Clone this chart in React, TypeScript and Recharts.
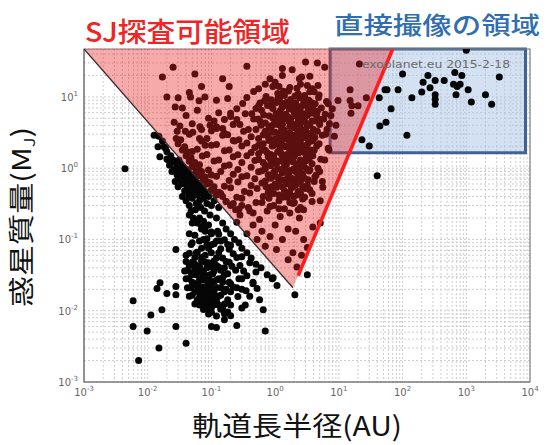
import React from 'react';
import { ScatterChart, Scatter, XAxis, YAxis, CartesianGrid, ReferenceArea } from 'recharts';

type Pt = [number, number]; // [semi-major axis AU, mass MJ]

// sparse giants in the upper part of the SJ triangle
const upperSparse: Pt[] = [
  [0.025, 26], [0.017, 19], [0.055, 21], [0.15, 18], [0.07, 14], [0.19, 14], [0.02, 10], [0.03, 9.7],
  [0.045, 11.5], [0.047, 10], [0.064, 8.8], [0.079, 10], [0.12, 9], [0.18, 9.5], [0.027, 7.2], [0.035, 7],
  [0.2, 5.9], [0.25, 4.8], [0.026, 4.4], [0.032, 3.9], [0.029, 3.3], [0.039, 3.3], [0.051, 3.2], [0.066, 3.8],
  [0.095, 4], [0.12, 3.8], [0.16, 3.1], [0.23, 2.4], [0.36, 27], [3, 31], [4.6, 30], [6, 26], [1.85, 24],
  [1.3, 20], [0.83, 18], [1.15, 14], [2.6, 19], [2.4, 18], [4.7, 14.5], [3.5, 19.5], [0.7, 15], [1, 16],
  [1.7, 13.5], [2.5, 15], [0.55, 13], [3.8, 13], [1.3, 25], [0.04, 5.5], [0.05, 4.2], [0.06, 6.5], [0.07, 3.5],
  [0.09, 5], [0.045, 3], [0.065, 2.6], [0.08, 2.1], [0.13, 6], [0.11, 4.6], [0.15, 3.6],
  [0.03, 2.2], [0.035, 1.8], [0.04, 1.5], [0.045, 1.25], [0.05, 1.05], [0.058, 0.9], [0.065, 0.78],
  [0.075, 0.68], [0.085, 0.6], [0.1, 0.5], [0.12, 0.42], [0.028, 2.6], [0.033, 2.5], [0.038, 2], [0.042, 1.7],
  [0.048, 1.4], [0.055, 1.2], [0.062, 1], [0.07, 0.9], [0.08, 0.75], [0.095, 0.62], [0.11, 0.55], [0.13, 0.46],
  [0.15, 0.4], [0.17, 0.34], [0.2, 0.3], [0.24, 0.26], [0.28, 0.22],
];

// dense RV giant cluster
const coreGiants: Pt[] = [
  [0.92, 14], [1.35, 12], [2.2, 13.2], [3.2, 14.5], [4.1, 11.8],
  [0.46, 11.9], [0.72, 10.1], [1.1, 11.2], [1.62, 12.1], [2.05, 10.3], [2.7, 9.9], [3.5, 11.8], [4.9, 10.6],
  [0.36, 9.8], [0.58, 8.2], [0.86, 9.1], [1.18, 9.9], [1.52, 8.4], [1.9, 8.1], [2.45, 9.7], [3.05, 9.2],
  [3.75, 8.3], [4.8, 9.8], [6.4, 8.6],
  [0.31, 8.1], [0.5, 6.9], [0.76, 7.6], [1.02, 8.3], [1.28, 7.1], [1.66, 6.8], [2.1, 8.2], [2.6, 7.4],
  [3.3, 6.9], [4.25, 8], [5.3, 7],
  [0.25, 6.8], [0.43, 5.8], [0.61, 6.5], [0.92, 6.9], [1.14, 5.9], [1.47, 5.7], [1.8, 6.9], [2.3, 6.2],
  [2.85, 5.8], [3.7, 6.9], [4.6, 6.3], [6.1, 5.7], [7.9, 6.8],
  [0.2, 5.3], [0.34, 5.8], [0.54, 4.9], [0.81, 5.4], [1.04, 5.9], [1.31, 4.8], [1.62, 5.2], [2.02, 5.8],
  [2.5, 4.9], [3.2, 5.5], [4.05, 5.9], [5.2, 4.8],
  [0.16, 4.8], [0.28, 4.1], [0.46, 4.9], [0.7, 4.3], [0.94, 4.1], [1.2, 4.7], [1.5, 4.95], [1.86, 4.15],
  [2.3, 4.5], [2.8, 4.95], [3.5, 4.1], [4.4, 4.6], [5.8, 4.9], [7.1, 4.2],
  [0.12, 3.6], [0.22, 4.1], [0.38, 3.5], [0.6, 4], [0.86, 3.6], [1.1, 4.1], [1.36, 3.45], [1.7, 3.85],
  [2.1, 4.15], [2.6, 3.5], [3.2, 3.9], [4, 3.5], [5, 4.1],
  [0.1, 3.35], [0.18, 2.95], [0.32, 3.3], [0.5, 3.5], [0.76, 2.95], [1, 3.2], [1.26, 3.5], [1.55, 3],
  [1.9, 2.9], [2.4, 3.35], [3, 3.5], [3.7, 2.95], [4.6, 3.3], [6.2, 3],
  [0.085, 2.6], [0.15, 2.9], [0.27, 2.5], [0.42, 2.75], [0.65, 2.95], [0.9, 2.5], [1.15, 2.7], [1.42, 2.95],
  [1.75, 2.45], [2.2, 2.75], [2.7, 2.95], [3.4, 2.5], [4.2, 2.7], [5.5, 2.9],
  [0.07, 2.4], [0.12, 2.15], [0.22, 2.45], [0.36, 2.25], [0.55, 2.1], [0.8, 2.45], [1.05, 2.3], [1.32, 2.1],
  [1.6, 2.5], [2, 2.2], [2.5, 2.4], [3.1, 2.1], [3.9, 2.45], [4.9, 2.2],
  [0.06, 1.85], [0.1, 2.1], [0.19, 1.8], [0.3, 2.05], [0.48, 1.95], [0.7, 1.78], [0.95, 2.1], [1.2, 1.88],
  [1.5, 2.02], [1.85, 1.8], [2.3, 2.1], [2.9, 1.88], [3.6, 1.8], [4.5, 2.05], [6.8, 1.9],
  [0.05, 1.72], [0.085, 1.55], [0.16, 1.75], [0.26, 1.54], [0.42, 1.66], [0.62, 1.78], [0.85, 1.55],
  [1.1, 1.7], [1.4, 1.52], [1.7, 1.76], [2.1, 1.6], [2.6, 1.72], [3.3, 1.53], [4.1, 1.78],
  [0.045, 1.33], [0.072, 1.48], [0.13, 1.3], [0.22, 1.45], [0.36, 1.5], [0.55, 1.32], [0.78, 1.44], [1, 1.29],
  [1.3, 1.49], [1.6, 1.36], [2, 1.46], [2.5, 1.3], [3.1, 1.4], [3.9, 1.5], [5.2, 1.33],
  [0.05, 1.23], [0.065, 1.12], [0.11, 1.26], [0.19, 1.11], [0.3, 1.2], [0.48, 1.28], [0.7, 1.1], [0.92, 1.2],
  [1.2, 1.27], [1.5, 1.12], [1.9, 1.23], [2.4, 1.09], [3, 1.26], [3.8, 1.15],
  [0.055, 1.04], [0.09, 0.94], [0.16, 1.07], [0.26, 0.96], [0.42, 1.03], [0.62, 0.92], [0.85, 1.08],
  [1.1, 0.98], [1.4, 1.05], [1.75, 0.93], [2.2, 1.03], [2.8, 1.07], [3.5, 0.95],
  [0.06, 0.88], [0.1, 0.8], [0.14, 0.9], [0.22, 0.82], [0.36, 0.78], [0.55, 0.89], [0.78, 0.81], [1, 0.92],
  [1.3, 0.86], [1.65, 0.79], [2.1, 0.9], [2.7, 0.82], [3.4, 0.91], [4.4, 0.8],
  [0.075, 0.69], [0.12, 0.77], [0.19, 0.67], [0.3, 0.76], [0.48, 0.71], [0.7, 0.66], [0.95, 0.77],
  [1.25, 0.69], [1.6, 0.75], [2, 0.67], [2.6, 0.78], [3.3, 0.69],
  [0.09, 0.63], [0.16, 0.56], [0.26, 0.64], [0.42, 0.57], [0.62, 0.62], [0.88, 0.55], [1.15, 0.65],
  [1.5, 0.6], [1.9, 0.55], [2.5, 0.64], [3.2, 0.58], [4.1, 0.65],
  [0.11, 0.48], [0.2, 0.53], [0.33, 0.47], [0.52, 0.52], [0.78, 0.46], [1.05, 0.54], [1.4, 0.48],
  [1.8, 0.53], [2.3, 0.47], [3, 0.52],
  [0.14, 0.44], [0.25, 0.39], [0.4, 0.45], [0.65, 0.4], [0.95, 0.44], [1.3, 0.39], [1.7, 0.45], [2.2, 0.42],
  [2.9, 0.39], [3.8, 0.44],
  [0.17, 0.34], [0.3, 0.38], [0.5, 0.33], [0.8, 0.38], [1.15, 0.35], [1.55, 0.39], [2, 0.33], [2.7, 0.37],
  [0.22, 0.32], [0.38, 0.28], [0.62, 0.33], [0.95, 0.3], [1.4, 0.27], [1.9, 0.32], [2.5, 0.28],
  [0.27, 0.265], [0.45, 0.235], [0.75, 0.25], [1.15, 0.27], [1.7, 0.235], [2.3, 0.26],
];

// extra points filling the densest part of the giant cluster
const coreFill: Pt[] = [
  [0.68, 8.8], [1.1, 9.5], [1.4, 10.5], [1.75, 9.2], [2.3, 11], [2.9, 10.5], [3.4, 9], [1.25, 8.3], [2.2, 7.1],
  [2.8, 8.3], [0.55, 7.5], [0.88, 7.4], [1.2, 6.4], [1.55, 7.5], [1.95, 6.3], [2.45, 6.6], [3, 7.9], [3.9, 7.4],
  [4.5, 5.4], [0.66, 5.6], [0.93, 5], [1.15, 5.3], [1.42, 5.5], [1.75, 4.9], [2.2, 5.3], [2.75, 5.6], [3.5, 5.9],
  [3.8, 4.6], [0.58, 4.6], [0.8, 3.9], [1, 4.4], [1.3, 4.1], [1.65, 4.5], [2, 3.7], [2.45, 4.1], [3, 4.4],
  [0.7, 3.3], [0.92, 3.2], [1.15, 3.05], [1.4, 3.3], [1.7, 3.1], [2.15, 3], [2.7, 3.3], [3.3, 3.1],
  [0.55, 2.6], [0.78, 2.75], [1, 2.55], [1.28, 2.5], [1.6, 2.75], [1.95, 2.55], [2.4, 2.6], [3, 2.7], [3.7, 2.4],
  [0.65, 2.2], [0.9, 2.05], [1.15, 2.15], [1.4, 2], [1.75, 2.15], [2.15, 1.95], [2.7, 2.05], [3.3, 2.25],
  [0.55, 1.6], [0.75, 1.65], [0.95, 1.5], [1.25, 1.6], [1.55, 1.55], [1.9, 1.5], [2.35, 1.65], [3, 1.6],
  [0.65, 1.2], [0.85, 1.3], [1.05, 1.15], [1.35, 1.22], [1.7, 1.28], [2.15, 1.15], [2.7, 1.2], [3.4, 1.3],
  [0.7, 0.98], [0.95, 0.87], [1.25, 0.95], [1.55, 0.9], [1.95, 0.97], [2.45, 0.9], [3.1, 0.98],
  [0.85, 0.72], [1.1, 0.75], [1.4, 0.68], [1.8, 0.72], [2.25, 0.75], [2.9, 0.72],
  [0.72, 0.55], [1, 0.6], [1.3, 0.55], [1.65, 0.62], [2.1, 0.58], [2.7, 0.55],
  [1.15, 0.42], [1.5, 0.46], [1.95, 0.4], [2.5, 0.45], [0.85, 0.48],
];

// scattered points in the lower/right part of the triangle
const lowerTriangle: Pt[] = [
  [0.83, 0.11], [1.3, 0.1], [2.1, 0.13], [3.9, 0.15], [0.62, 0.13], [1.05, 0.072], [1.6, 0.052], [2.2, 0.041],
  [0.7, 0.08], [0.52, 0.1], [0.36, 0.12], [0.25, 0.175], [3.2, 0.077], [5.1, 0.17], [3.8, 0.34], [5.1, 0.35],
  [5.6, 0.54], [4.7, 1], [0.57, 0.19], [1.2, 0.21], [2.4, 0.2], [0.4, 0.25], [0.83, 0.29], [1.7, 0.33],
  [0.3, 0.3], [1, 0.16], [1.6, 0.14], [2.8, 0.1], [0.45, 0.16], [2.8, 0.26], [3.5, 0.5], [4.2, 0.75],
  [5, 0.9], [6, 1.3], [7, 1.8], [6.5, 3.5], [7.5, 5.5], [8.5, 2.8], [6.8, 8], [9, 4], [5.5, 0.65],
  [1.9, 0.065], [2.6, 0.06],
];

// hot Jupiters just outside the SJ edge
const hotJupiters: Pt[] = [
  [0.0126, 2.9], [0.0145, 2], [0.0155, 1.45], [0.015, 2.8], [0.017, 2.4], [0.018, 2], [0.02, 1.7], [0.021, 1.3],
  [0.023, 1.5], [0.025, 1.3], [0.027, 1.2], [0.028, 1], [0.03, 1.1], [0.032, 0.9], [0.026, 0.95], [0.029, 0.8],
  [0.031, 1.3], [0.033, 1.15], [0.035, 0.95], [0.036, 0.8], [0.037, 0.7], [0.038, 0.9], [0.039, 0.6],
  [0.04, 0.78], [0.041, 0.5], [0.042, 0.95], [0.043, 0.68], [0.044, 0.42], [0.045, 0.85], [0.046, 0.58],
  [0.047, 0.75], [0.048, 0.5], [0.05, 0.65], [0.05, 0.38], [0.052, 0.8], [0.053, 0.55], [0.055, 0.45],
  [0.056, 0.7], [0.058, 0.32], [0.06, 0.6], [0.06, 0.42], [0.062, 0.5], [0.065, 0.35], [0.066, 0.6],
  [0.068, 0.28], [0.07, 0.45], [0.072, 0.52], [0.075, 0.38], [0.078, 0.25], [0.08, 0.46], [0.085, 0.32],
  [0.09, 0.4], [0.095, 0.22], [0.1, 0.3], [0.11, 0.35], [0.12, 0.2], [0.13, 0.28], [0.034, 0.6], [0.038, 0.48],
  [0.04, 0.35], [0.045, 0.3], [0.048, 0.25], [0.052, 0.2], [0.056, 0.26], [0.06, 0.17], [0.065, 0.2],
  [0.07, 0.15], [0.075, 0.18], [0.08, 0.13], [0.09, 0.16], [0.1, 0.12], [0.035, 0.4], [0.03, 0.55],
  [0.032, 0.7], [0.027, 0.65], [0.024, 0.9], [0.022, 1.1], [0.044, 0.55], [0.05, 0.5], [0.036, 1.05],
  [0.02, 1.35], [0.019, 1.9], [0.15, 0.17], [0.17, 0.14], [0.2, 0.12], [0.23, 0.1], [0.27, 0.09], [0.3, 0.075],
  [0.36, 0.065], [0.42, 0.055], [0.5, 0.045], [0.6, 0.04], [0.75, 0.032], [0.9, 0.028], [0.125, 0.13],
  [0.14, 0.095], [0.18, 0.085], [0.0044, 0.98],
];

// low-mass cluster
const lowMass: Pt[] = [
  [0.045, 0.22], [0.06, 0.185], [0.05, 0.17], [0.08, 0.15], [0.045, 0.12], [0.07, 0.14], [0.1, 0.127],
  [0.055, 0.115], [0.085, 0.102], [0.13, 0.118], [0.05, 0.09], [0.075, 0.1], [0.11, 0.087], [0.16, 0.099],
  [0.048, 0.085], [0.07, 0.075], [0.1, 0.084], [0.14, 0.074], [0.2, 0.083],
  [0.06, 0.066], [0.09, 0.075], [0.13, 0.065], [0.19, 0.073],
  [0.045, 0.064], [0.07, 0.056], [0.1, 0.065], [0.15, 0.055], [0.22, 0.063], [0.3, 0.057],
  [0.04, 0.049], [0.055, 0.056], [0.08, 0.048], [0.12, 0.055], [0.17, 0.049], [0.25, 0.056],
  [0.05, 0.048], [0.065, 0.042], [0.09, 0.047], [0.13, 0.041], [0.19, 0.048], [0.28, 0.043], [0.4, 0.047],
  [0.042, 0.037], [0.058, 0.042], [0.075, 0.036], [0.1, 0.041], [0.14, 0.037], [0.21, 0.042], [0.32, 0.036],
  [0.038, 0.036], [0.05, 0.032], [0.066, 0.037], [0.085, 0.031], [0.11, 0.036], [0.16, 0.032], [0.24, 0.037],
  [0.36, 0.031], [0.5, 0.035],
  [0.044, 0.028], [0.058, 0.032], [0.075, 0.027], [0.095, 0.032], [0.13, 0.028], [0.18, 0.033], [0.27, 0.028],
  [0.04, 0.028], [0.052, 0.024], [0.068, 0.028], [0.088, 0.0235], [0.12, 0.027], [0.15, 0.029], [0.2, 0.024],
  [0.3, 0.028], [0.45, 0.024],
  [0.047, 0.021], [0.062, 0.025], [0.08, 0.021], [0.1, 0.0245], [0.14, 0.021], [0.19, 0.025], [0.25, 0.021],
  [0.042, 0.021], [0.055, 0.0185], [0.072, 0.0215], [0.092, 0.0188], [0.12, 0.0212], [0.16, 0.0185],
  [0.22, 0.0215], [0.35, 0.019],
  [0.05, 0.0165], [0.065, 0.0185], [0.085, 0.0162], [0.11, 0.0183], [0.14, 0.0165], [0.2, 0.0185],
  [0.045, 0.016], [0.06, 0.014], [0.078, 0.0158], [0.1, 0.0141], [0.13, 0.016], [0.18, 0.0142], [0.26, 0.0158],
  [0.055, 0.0124], [0.07, 0.0138], [0.095, 0.0123], [0.12, 0.0137], [0.16, 0.0124],
  [0.065, 0.012], [0.085, 0.0109], [0.11, 0.0121], [0.15, 0.011], [0.2, 0.012], [0.3, 0.0109],
  [0.075, 0.0104], [0.1, 0.0095], [0.14, 0.0105], [0.18, 0.0096], [0.09, 0.009], [0.12, 0.0084], [0.16, 0.0091],
  [0.055, 0.045], [0.07, 0.05], [0.085, 0.04], [0.06, 0.035], [0.075, 0.032], [0.08, 0.06], [0.11, 0.05],
  [0.065, 0.027], [0.09, 0.028], [0.105, 0.033], [0.06, 0.022], [0.075, 0.019], [0.095, 0.021], [0.11, 0.026],
  [0.05, 0.025], [0.065, 0.0155], [0.085, 0.014], [0.105, 0.016], [0.048, 0.034], [0.12, 0.043], [0.16, 0.04],
  [0.15, 0.025], [0.17, 0.02], [0.13, 0.012], [0.08, 0.0125], [0.1, 0.011], [0.055, 0.039], [0.045, 0.043],
  [0.058, 0.065], [0.085, 0.085], [0.12, 0.095], [0.065, 0.095], [0.04, 0.06],
];

const lowOutliers: Pt[] = [
  [0.0059, 0.0138], [0.0059, 0.006], [0.0098, 0.0052], [0.0072, 0.002], [0.0112, 0.0087], [0.015, 0.003],
  [0.014, 0.0205], [0.0156, 0.0247], [0.0167, 0.0103], [0.02, 0.0174], [0.0277, 0.072], [0.0277, 0.0218],
  [0.0277, 0.0167], [0.0277, 0.006], [0.04, 0.0035], [0.1, 0.006], [0.12, 0.0058], [0.16, 0.0075],
  [0.2, 0.0085], [0.25, 0.0062], [0.34, 0.012], [0.65, 0.0103], [0.7, 0.0052], [0.93, 0.029], [1.07, 0.0225],
  [2.04, 0.0168], [0.57, 0.0143], [0.52, 0.0205], [0.4, 0.016], [0.45, 0.025], [0.3, 0.02], [3.2, 0.032],
];

// wide-orbit planets (direct imaging side)
const wideOrbit: Pt[] = [
  [1000, 45], [21, 29], [100, 21], [250, 20], [210, 16], [325, 17], [450, 17], [660, 22], [850, 20], [800, 15],
  [720, 14], [690, 10.7], [630, 15], [1070, 12.6], [1200, 8.5], [2000, 10.7], [2500, 7.9], [3300, 19],
  [270, 13.4], [200, 11.7], [325, 10.7], [325, 9.3], [325, 7.9], [140, 9.7], [85, 12.6], [53, 12.6], [57, 12.6],
  [43, 9.7], [66, 6.8], [55, 4.4], [44, 3.9], [117, 2.9], [23, 2.5], [30, 2.05], [40, 0.78], [15, 12.6],
  [15, 8.9], [16, 7.5], [15.5, 5.9], [20, 7.5], [9.7, 8.9], [27, 9.7],
];

// region outlines
const sjRegion = [{ a: 0.001, m: 47 }, { a: 1.9, m: 0.021 }, { a: 70, m: 47 }];
const sjEdgeBlack = [{ a: 0.001, m: 47 }, { a: 1.9, m: 0.021 }];
const sjEdgeRed = [{ a: 2.3, m: 0.031 }, { a: 70, m: 47 }];
const imagingBox = { a1: 7.3, a2: 8500, m1: 1.65, m2: 47 };

const planets = [
  ...upperSparse, ...coreGiants, ...coreFill, ...lowerTriangle, ...hotJupiters, ...lowMass, ...lowOutliers,
  ...wideOrbit,
].map(([a, m]) => ({ a, m }));

const logTicks = (lo: number, hi: number, max: number) => {
  const t: number[] = [];
  for (let e = lo; e <= hi; e++) for (let k = 1; k < 10; k++) if (k * 10 ** e <= max * 1.0001) t.push(k * 10 ** e);
  return t;
};
const xTicks = logTicks(-3, 4, 10000);
const yTicks = logTicks(-3, 1, 47);

const decade = (v: number) => {
  const lg = Math.log10(v);
  const e = Math.round(lg);
  return Math.abs(lg - e) < 1e-6 ? e : null;
};

const XTick = (props: any) => {
  const { x, y, payload } = props;
  const e = decade(payload.value);
  if (e === null) return <g />;
  return (
    <text x={x} y={y + 6} textAnchor="middle" fontSize={10} fill="#666" fontFamily="DejaVu Sans">
      10<tspan dy={-5} fontSize={7}>{e}</tspan>
    </text>
  );
};

const YTick = (props: any) => {
  const { x, y, payload } = props;
  const e = decade(payload.value);
  if (e === null) return <g />;
  return (
    <text x={x + 2} y={y + 4} textAnchor="end" fontSize={10} fill="#666" fontFamily="DejaVu Sans">
      10<tspan dy={-5} fontSize={7}>{e}</tspan>
    </text>
  );
};

const dot = (p: any) => <circle cx={p.cx} cy={p.cy} r={3.5} fill="#060606" />;
const noShape = () => <g />;
const triangleFill = (p: any) => (
  <polygon
    points={p.points.map((pt: any) => `${pt.x},${pt.y}`).join(' ')}
    fill="#e82020"
    fillOpacity={0.38}
    stroke="none"
  />
);

const cjk = '"Noto Sans CJK JP", "Noto Sans CJK SC", sans-serif';

export default function App() {
  return (
    <div style={{ position: 'absolute', left: 0, top: 0, width: 547, height: 445, background: '#fff' }}>
      <ScatterChart width={547} height={445} margin={{ top: 49, right: 17, bottom: 33, left: 24 }}>
        <CartesianGrid stroke="#cdcdcd" strokeDasharray="2 2" />
        <XAxis
          type="number"
          dataKey="a"
          scale="log"
          domain={[0.001, 10000]}
          allowDataOverflow
          ticks={xTicks}
          interval={0}
          tick={<XTick />}
          tickLine={false}
          axisLine={{ stroke: '#777' }}
          height={30}
        />
        <YAxis
          type="number"
          dataKey="m"
          scale="log"
          domain={[0.001, 47]}
          allowDataOverflow
          ticks={yTicks}
          interval={0}
          tick={<YTick />}
          tickLine={false}
          axisLine={{ stroke: '#777' }}
          width={60}
        />
        <ReferenceArea
          x1={imagingBox.a1}
          x2={imagingBox.a2}
          y1={imagingBox.m1}
          y2={imagingBox.m2}
          fill="#a8c4e6"
          fillOpacity={0.5}
          stroke="#3f6491"
          strokeWidth={3}
          ifOverflow="visible"
        />
        <ReferenceArea x1={0.001} x2={10000} y1={0.001} y2={47} fill="none" stroke="#808080" strokeWidth={1.2} />
        <Scatter data={planets} shape={dot} isAnimationActive={false} />
        <Scatter data={sjRegion} shape={noShape} line={triangleFill} isAnimationActive={false} />
        <Scatter data={sjEdgeBlack} shape={noShape} line={{ stroke: '#3a2a2a', strokeWidth: 1.3 }} isAnimationActive={false} />
        <Scatter data={sjEdgeRed} shape={noShape} line={{ stroke: '#ff1c1c', strokeWidth: 3.5 }} isAnimationActive={false} />
      </ScatterChart>
      <svg width={547} height={445} style={{ position: 'absolute', left: 0, top: 0, pointerEvents: 'none' }}>
        <text x={85} y={42} fontSize={27} fill="#f02424" fontFamily={cjk} fontWeight={500} textLength={205} lengthAdjust="spacingAndGlyphs">
          SJ探査可能領域
        </text>
        <text x={334} y={34} fontSize={24} fill="#2f6eb0" fontFamily={cjk} fontWeight={500} textLength={206} lengthAdjust="spacingAndGlyphs">
          直接撮像の領域
        </text>
        <text x={362} y={68} fontSize={11} fill="#6b6b6b" fontFamily="DejaVu Sans" textLength={148} lengthAdjust="spacingAndGlyphs">
          exoplanet.eu 2015-2-18
        </text>
        <text x={192} y={436} fontSize={27} fill="#111" fontFamily={cjk} textLength={210} lengthAdjust="spacingAndGlyphs">
          軌道長半径(AU)
        </text>
        <text transform="translate(31,307) rotate(-90)" fontSize={26} fill="#111" fontFamily={cjk} textLength={180} lengthAdjust="spacingAndGlyphs">
          惑星質量(M<tspan fontSize={15} dy={4}>J</tspan><tspan dy={-4}>)</tspan>
        </text>
      </svg>
    </div>
  );
}
